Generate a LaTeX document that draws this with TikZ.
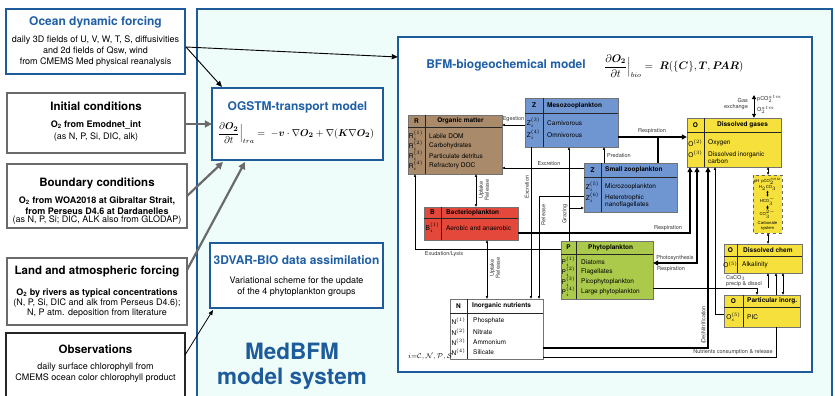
\documentclass[tikz,border=0pt]{standalone}
\usepackage{amsmath,bm}
\usepackage{fontspec}
\setmainfont{TeX Gyre Heros}
\usetikzlibrary{arrows.meta,fit,calc}
\definecolor{mblue}{HTML}{1D5B9B}
\definecolor{tblue}{HTML}{1F5FA6}
\definecolor{panel}{HTML}{EEFCFA}
\definecolor{gborder}{HTML}{6A6A6A}
\definecolor{omc}{HTML}{A98B6B}
\definecolor{zooc}{HTML}{7096D2}
\definecolor{bacc}{HTML}{E4483A}
\definecolor{phyc}{HTML}{ABC94B}
\definecolor{yelc}{HTML}{F6E13C}
\newcommand\tbl[8]{%
  \draw[tline,fill=#8] (#2,#3) rectangle (#4,#5);
  \draw[hline] (#2,#6) -- (#4,#6);
  \draw[hline] (#7,#3) -- (#7,#5);
  \node[fit={(#2,#3)(#4,#5)},inner sep=0pt] (#1) {};
}
\newcommand\rlab[2]{#1$^{\scriptscriptstyle(#2)}_{\scriptscriptstyle i}$}
\begin{document}
\begin{tikzpicture}[x=1pt,y=-1pt,
  lbox/.style={draw=mblue,line width=2.2pt,fill=white},
  gbox/.style={draw=gborder,line width=2.2pt,fill=white},
  ttl/.style={font=\fontsize{12}{14}\selectfont\bfseries,text=tblue,inner sep=0},
  btl/.style={font=\fontsize{11.5}{14}\selectfont\bfseries,inner sep=0},
  body/.style={font=\fontsize{9}{11}\selectfont,inner sep=0,align=center},
  bbody/.style={font=\fontsize{9}{11}\selectfont\bfseries,inner sep=0,align=center},
  blk/.style={-{Triangle[length=6pt,width=5pt]},line width=0.9pt},
  gry/.style={-{Triangle[length=7pt,width=7pt]},line width=2.2pt,draw=gborder},
  tline/.style={draw=black!55,line width=0.6pt},
  hline/.style={draw=black!85,line width=0.9pt},
  hd/.style={font=\fontsize{6.5}{7.5}\selectfont\bfseries,inner sep=0},
  rw/.style={font=\fontsize{6.5}{7}\selectfont,inner sep=0,anchor=west,align=left},
  rl/.style={font=\fontsize{6.5}{7.5}\selectfont,inner sep=0},
  cl/.style={font=\fontsize{5.5}{6}\selectfont,inner sep=0,text=black!80},
  thn/.style={line width=0.5pt,-{Triangle[length=2.6pt,width=2.2pt]}},
  thk/.style={line width=1.8pt,-{Triangle[length=5pt,width=5pt]}},
]
\useasboundingbox (0,0) rectangle (835,396);
\begin{scope}
\clip (0,0) rectangle (835,396);
\fill[white] (0,0) rectangle (835,396);
% panel
\draw[mblue,line width=2.5pt,fill=panel] (197,9) rectangle (832,420);
% observations box (extends below)
\draw[draw=black!85,line width=1.3pt,fill=white] (6,333) rectangle (185,420);
\end{scope}
\node[fit={(6,333)(185,396)},inner sep=0pt] (obs) {};

% left column
\draw[lbox] (6,9) rectangle (185,74);
\node[fit={(6,9)(185,74)},inner sep=0pt] (odf) {};
\node[ttl] (odft) at (95.5,22) {Ocean dynamic forcing};
\node[body] (odfb) at (95.5,51.5) {daily 3D fields of U, V, W, T, S, diffusivities\\and 2d fields of Qsw, wind\\from CMEMS Med physical reanalysis};

\draw[gbox] (7,93) rectangle (185,153);
\node[fit={(7,93)(185,153)},inner sep=0pt] (ic) {};
\node[btl] (ict) at (96,106) {Initial conditions};
\node[bbody] (icb1) at (96,125) {O\textsubscript{2} from Emodnet\_int};
\node[body] (icb2) at (96,137.5) {(as N, P, Si, DIC, alk)};

\draw[gbox] (7,164) rectangle (187,228);
\node[fit={(7,164)(187,228)},inner sep=0pt] (bc) {};
\node[btl] (bct) at (97,183) {Boundary conditions};
\node[bbody] (bcb1) at (97,205.5) {O\textsubscript{2} from WOA2018 at Gibraltar Strait,\\from Perseus D4.6 at Dardanelles};
\node[body] (bcb2) at (97,220) {(as N, P, Si; DIC, ALK also from GLODAP)};

\draw[gbox] (7,258) rectangle (187,325);
\node[fit={(7,258)(187,325)},inner sep=0pt] (laf) {};
\node[btl] (laft) at (97,271) {Land and atmospheric forcing};
\node[bbody] (lafb1) at (97,293) {O\textsubscript{2} by rivers as typical concentrations};
\node[body,font=\fontsize{9}{10}\selectfont] (lafb2) at (97,308) {(N, P, Si, DIC and alk from Perseus D4.6);\\N, P atm. deposition from literature};

\node[btl] (obst) at (95.5,349) {Observations};
\node[body] (obsb) at (95.5,373) {daily surface chlorophyll from\\CMEMS ocean color chlorophyll product};

% OGSTM
\draw[lbox] (212,88) rectangle (383,160);
\node[fit={(212,88)(383,160)},inner sep=0pt] (og) {};
\node[ttl] (ogt) at (297.5,107) {OGSTM-transport model};
\node[inner sep=0,font=\fontsize{10}{12}\selectfont] (oge) at (296,133) {$\displaystyle \frac{\partial\bm{O_2}}{\partial t}\Big|_{tra} = \;-\bm{v}\cdot\nabla\bm{O_2}+\nabla(\bm{K}\nabla\bm{O_2})$};

% 3DVAR
\draw[lbox,line width=2pt] (210,243) rectangle (383,308);
\node[fit={(210,243)(383,308)},inner sep=0pt] (dv) {};
\node[ttl] (dvt) at (296.5,260) {3DVAR-BIO data assimilation};
\node[body] (dvb) at (296.5,287) {Variational scheme for the update\\of the 4 phytoplankton groups};

% MedBFM
\node[font=\fontsize{22.5}{25}\selectfont\bfseries,text=mblue,align=center,inner sep=0] (medt) at (292,366) {MedBFM\\model system};

% BFM box
\draw[mblue,line width=2.5pt,fill=white] (398,37) rectangle (812,372);
\node[fit={(398,37)(812,372)},inner sep=0pt] (bfm) {};
\node[ttl] (bfmt) at (506,65) {BFM-biogeochemical model};
\node[inner sep=0,font=\fontsize{10.5}{12}\selectfont,anchor=west] (bfme) at (604,66) {$\displaystyle \frac{\partial\bm{O_2}}{\partial t}\Big|_{bio} = \;\bm{R}(\{\bm{C}\},\bm{T},\bm{P\!AR})$};

% left connectors
\draw[blk] (186,47) -- (bfm.west |- 0,57);
\draw[blk] (186,47) -- (222,87);
\draw[gry] (ic.east |- 0,124) -- (og.west |- 0,124);
\draw[gry] (187,196) -- (223,162);
\draw[gry] (187,270) -- (245,162);
\draw[-{Triangle[length=5pt,width=4pt]},line width=0.8pt] (185,355) -- (213,310);

% ---- BFM tables ----
\tbl{om}{408}{115}{502}{174}{127}{425}{omc}
\node[hd] (omh1) at (416.5,121) {R};
\node[hd] (omh2) at (460.5,121) {Organic matter};
\node[rl] (omr1) at (416,136) {\rlab{R}{1}};
\node[rl] (omr2) at (416,146) {\rlab{R}{2}};
\node[rl] (omr3) at (416,156) {\rlab{R}{3}};
\node[rl] (omr4) at (416,166) {\rlab{R}{4}};
\node[rw] (omt1) at (429,136) {Labile DOM};
\node[rw] (omt2) at (429,146) {Carbohydrates};
\node[rw] (omt3) at (429,156) {Particulate detritus};
\node[rw] (omt4) at (429,166) {Refractory DOC};

\tbl{mz}{525}{98}{618}{147}{113}{543}{zooc}
\node[hd] (mzh1) at (534,105.5) {Z};
\node[hd,anchor=west] (mzh2) at (547,105.5) {Mesozooplankton};
\node[rl] (mzr1) at (533.5,123) {\rlab{Z}{3}};
\node[rl] (mzr2) at (533.5,135) {\rlab{Z}{4}};
\node[rw] (mzt1) at (547,123) {Carnivorous};
\node[rw] (mzt2) at (547,135) {Omnivorous};

\tbl{sz}{584}{163}{677}{212}{177}{601}{zooc}
\node[hd] (szh1) at (592.5,170) {Z};
\node[hd,anchor=west] (szh2) at (605,170) {Small zooplankton};
\node[rl] (szr1) at (592.5,187) {\rlab{Z}{5}};
\node[rl] (szr2) at (592.5,198) {\rlab{Z}{6}};
\node[rw] (szt1) at (605,187) {Microzooplankton};
\node[rw] (szt2) at (605,201.5) {Heterotrophic\\nanoflagellates};

\tbl{og2}{687}{118}{781}{167}{132}{704}{yelc}
\node[hd] (ogh1) at (695.5,125) {O};
\node[hd] (ogh2) at (742.5,125) {Dissolved gases};
\node[rl] (ogr1) at (695.5,143) {O$^{\scriptscriptstyle(2)}$};
\node[rl] (ogr2) at (695.5,154) {O$^{\scriptscriptstyle(3)}$};
\node[rw] (ogt1) at (708,143) {Oxygen};
\node[rw] (ogt2) at (708,158) {Dissolved inorganic\\carbon};

\tbl{dc}{724}{244}{802}{273}{256}{737}{yelc}
\node[hd] (dch1) at (730.5,250) {O};
\node[hd,anchor=west] (dch2) at (743,250) {Dissolved chem};
\node[rl] (dcr1) at (730.5,264.5) {O$^{\scriptscriptstyle(5)}$};
\node[rw] (dct1) at (742,264.5) {Alkalinity};

\tbl{pi}{724}{295}{800}{327}{307}{743}{yelc}
\node[hd] (pih1) at (733.5,301) {O};
\node[hd,anchor=west] (pih2) at (747,301) {Particular inorg.};
\node[rl] (pir1) at (733.5,317) {O$^{\scriptscriptstyle(5)}_{\scriptscriptstyle c}$};
\node[rw] (pit1) at (747,317) {PIC};

\tbl{ba}{424}{207}{518}{240}{218}{441}{bacc}
\node[hd] (bah1) at (432.5,212.5) {B};
\node[hd,anchor=west] (bah2) at (446,212.5) {Bacterioplankton};
\node[rl] (bar1) at (432.5,228) {\rlab{B}{1}};
\node[rw] (bat1) at (446,228) {Aerobic and anaerobic};

\tbl{ph}{561}{241}{653}{299}{254}{576}{phyc}
\node[hd] (phh1) at (568.5,247.5) {P};
\node[hd,anchor=west] (phh2) at (588,247.5) {Phytoplankton};
\node[rl] (phr1) at (568.5,262) {\rlab{P}{1}};
\node[rl] (phr2) at (568.5,272) {\rlab{P}{2}};
\node[rl] (phr3) at (568.5,282) {\rlab{P}{3}};
\node[rl] (phr4) at (568.5,292) {\rlab{P}{4}};
\node[rw] (pht1) at (581,262) {Diatoms};
\node[rw] (pht2) at (581,272) {Flagellates};
\node[rw] (pht3) at (581,282) {Picophytoplankton};
\node[rw] (pht4) at (581,292) {Large phytoplankton};

\tbl{nu}{450}{299}{543}{359}{313}{467}{white}
\node[hd] (nuh1) at (458.5,306) {N};
\node[hd,anchor=west] (nuh2) at (472,306) {Inorganic nutrients};
\node[rl] (nur1) at (458.5,321) {N$^{\scriptscriptstyle(1)}$};
\node[rl] (nur2) at (458.5,332) {N$^{\scriptscriptstyle(2)}$};
\node[rl] (nur3) at (458.5,342) {N$^{\scriptscriptstyle(3)}$};
\node[rl] (nur4) at (458.5,352) {N$^{\scriptscriptstyle(4)}$};
\node[rw] (nut1) at (473,321) {Phosphate};
\node[rw] (nut2) at (473,332) {Nitrate};
\node[rw] (nut3) at (473,342) {Ammonium};
\node[rw] (nut4) at (473,352) {Silicate};

\node[inner sep=0,font=\fontsize{7}{8}\selectfont,anchor=west] (ilab) at (408,357) {$i{=}\mathcal{C},\mathcal{N},\mathcal{P},\mathcal{S}$};

% carbonate system
\draw[draw=black!60,dashed,line width=0.6pt,fill=yelc] (753,175) rectangle (782,233);
\node[fit={(753,175)(782,233)},inner sep=0pt] (cs) {};
\node[inner sep=0,font=\fontsize{4.2}{5}\selectfont] (cs1) at (767.5,181.5) {pH\, pCO$_2^{sea}$};
\node[inner sep=0,font=\fontsize{4.2}{5}\selectfont] (cs2) at (767.5,188) {H$_2$CO$_3$};
\node[inner sep=0,font=\fontsize{4.2}{5}\selectfont] (cs3) at (767.5,201) {HCO$_3^-$};
\node[inner sep=0,font=\fontsize{4.2}{5}\selectfont] (cs4) at (767.5,214) {CO$_3^{2-}$};
\node[inner sep=0,font=\fontsize{4.2}{4.8}\selectfont,align=center] (cs5) at (767.5,226) {Carbonate\\system};
\draw[line width=0.5pt,{Triangle[length=2pt,width=2pt]}-{Triangle[length=2pt,width=2pt]}] (cs2.south) -- (cs3.north);
\draw[line width=0.5pt,{Triangle[length=2pt,width=2pt]}-{Triangle[length=2pt,width=2pt]}] (cs3.south) -- (cs4.north);
\draw[line width=0.5pt,{Triangle[length=2.4pt,width=2.2pt]}-{Triangle[length=2.4pt,width=2.2pt]}] (og2.south -| 768,0) -- (cs.north -| 768,0);
\draw[line width=0.5pt,{Triangle[length=2.4pt,width=2.2pt]}-{Triangle[length=2.4pt,width=2.2pt]}] (cs.south -| 768,0) -- (dc.north -| 768,0);

% gas exchange
\coordinate (gtop) at (754,95);
\draw[line width=1pt,{Triangle[length=4pt,width=4pt]}-{Triangle[length=4pt,width=4pt]}] (gtop) -- (og2.north -| gtop);
\node[cl,align=right,anchor=east] (gasl) at (748,104) {Gas\\exchange};
\node[cl,anchor=west] (gasr1) at (757,99) {pCO$_2^{atm}$};
\node[cl,anchor=west] (gasr2) at (757,110) {O$_2^{atm}$};

% ---- BFM connectors ----
\draw[thn] (mz.west |- 0,125) -- (om.east |- 0,125);
\node[cl] (l1) at (513.5,119) {Egestion};
\draw[thn] (sz.west |- 0,168) -- (om.east |- 0,168);
\node[cl] (l2) at (549,163.5) {Excretion};
\draw[thk] (mz.east |- 0,137) -- (og2.west |- 0,137);
\node[cl] (l3) at (652,131.5) {Respiration};
\draw[line width=1.8pt] (sz.north -| 658,0) -- (658,137);
\draw[thn] (sz.north -| 604,0) -- (mz.south -| 604,0);
\node[cl,anchor=west] (l4) at (607,156) {Predation};
\draw[thn] (mz.south -| 531,0) -- (nu.north -| 531,0);
\node[cl,rotate=90] (l5) at (527,187) {Excretion};
\draw[thn] (sz.west |- 0,196) -- (539,196) -- (nu.north -| 539,0);
\node[cl,rotate=90] (l6) at (543.5,215) {Release};
\draw[thn] (ph.north -| 569,0) -- (mz.south -| 569,0);
\draw[thn] (569,208) -- (sz.west |- 0,208);
\node[cl,rotate=90] (l7) at (565,214) {Grazing};
\draw[line width=0.5pt,{Triangle[length=2.6pt,width=2.2pt]}-{Triangle[length=2.6pt,width=2.2pt]}] (om.south -| 476,0) -- (ba.north -| 476,0);
\node[cl,rotate=90,align=center] (l8) at (484,190) {Uptake\\Release};
\draw[thn] (ph.west |- 0,249) -- (415,249) -- (om.south -| 415,0);
\node[cl] (l9) at (444,254.5) {Exudation/Lysis};
\draw[line width=0.5pt,{Triangle[length=2.6pt,width=2.2pt]}-{Triangle[length=2.6pt,width=2.2pt]}] (ba.south -| 487,0) -- (nu.north -| 487,0);
\node[cl,rotate=90,align=center] (l10) at (495,268) {Uptake\\Release};
\draw[thk] (ba.east |- 0,233) -- (690,233) -- (og2.south -| 690,0);
\node[cl] (l11) at (668,228.5) {Respiration};
\draw[line width=1.8pt,{Triangle[length=5pt,width=5pt]}-{Triangle[length=5pt,width=5pt]}] (ph.east |- 0,263) -- (697,263) -- (og2.south -| 697,0);
\node[cl] (l12) at (675,258) {Photosynthesis};
\node[cl] (l13) at (671,269) {Respiration};
\draw[thk] (nu.east |- 0,348) -- (708,348) -- (og2.south -| 708,0);
\node[cl,rotate=90] (l14) at (704,325) {(De)Nitrification};
\draw[thn] (pi.west |- 0,314) -- (715,314) -- (og2.south -| 715,0);
\draw[line width=0.6pt] (nu.east |- 0,357) -- (776,357) -- (pi.south -| 776,0);
\node[cl] (l15) at (733,352.5) {Nutrients consumption \& release};
\draw[thn] (ph.east |- 0,288) -- (757,288) -- (pi.north -| 757,0);
\node[cl,align=left,anchor=west] (l16) at (726,281) {CaCO$_3$\\precip \& dissol};
\draw[thn] (768,288) -- (dc.south -| 768,0);
\draw[thn] (pi.north -| 776,0) -- (dc.south -| 776,0);
\draw[line width=0.5pt,{Triangle[length=2.6pt,width=2.2pt]}-{Triangle[length=2.6pt,width=2.2pt]}] (pi.north -| 783,0) -- (dc.south -| 783,0);
\end{tikzpicture}
\end{document}
